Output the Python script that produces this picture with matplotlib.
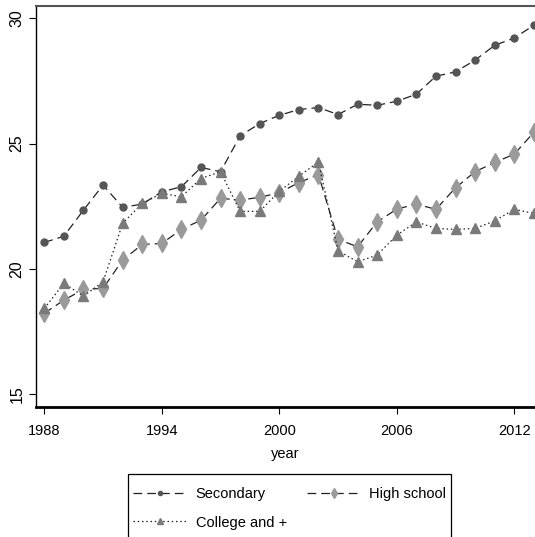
import matplotlib
matplotlib.use("Agg")
import matplotlib.pyplot as plt
from matplotlib.patches import Rectangle
import numpy as np

# Wage series by education level, 1988-2013
years = np.arange(1988, 2014)

secondary = [21.06, 21.31, 22.35, 23.35, 22.46, 22.59, 23.08, 23.28, 24.05, 23.88,
             25.31, 25.80, 26.13, 26.36, 26.44, 26.16, 26.57, 26.53, 26.69, 26.97,
             27.69, 27.86, 28.33, 28.92, 29.21, 29.72]
high_school = [18.24, 18.76, 19.19, 19.23, 20.36, 20.98, 21.02, 21.58, 21.95, 22.82,
               22.75, 22.86, 23.04, 23.45, 23.76, 21.18, 20.89, 21.88, 22.39, 22.59,
               22.38, 23.24, 23.88, 24.25, 24.58, 25.45]
college = [18.43, 19.43, 18.92, 19.49, 21.82, 22.62, 23.02, 22.88, 23.61, 23.88,
           22.30, 22.30, 23.10, 23.70, 24.27, 20.73, 20.29, 20.56, 21.35, 21.88,
           21.62, 21.58, 21.62, 21.92, 22.38, 22.22]

series_labels = ["Secondary", "High school", "College and +"]
xticks = [1988, 1994, 2000, 2006, 2012]
yticks = [15, 20, 25, 30]

font = ["Liberation Sans", "DejaVu Sans"]

W, H = 535, 537
fig = plt.figure(figsize=(W / 100, H / 100), dpi=100)
ax = fig.add_axes([35.7 / W, 1 - 407 / H, 1 - 35.7 / W, (407 - 5.7) / H])

h1, = ax.plot(years, secondary, color="#222222", lw=0.9, dashes=(7, 4),
              marker="o", ms=5, mfc="#555555", mec="#555555", label=series_labels[0])
h2, = ax.plot(years, high_school, color="#222222", lw=0.9, dashes=(7, 4),
              marker="d", ms=9, mfc="#9a9a9a", mec="#9a9a9a", label=series_labels[1])
h3, = ax.plot(years, college, color="#222222", lw=0.9, dashes=(1.2, 2.2),
              marker="^", ms=7, mfc="#7a7a7a", mec="#7a7a7a", label=series_labels[2])

ax.set_xlim(1987.56, 2013.06)
ax.set_ylim(14.5, 30.5)
ax.set_xticks(xticks)
ax.set_yticks(yticks)
ax.set_xticklabels([str(t) for t in xticks], family=font, fontsize=10.5)
ax.set_yticklabels([str(t) for t in yticks], family=font, fontsize=11.5,
                   rotation=90, va="center")
ax.tick_params(axis="x", length=5, width=0.8, pad=7)
ax.tick_params(axis="y", length=5, width=0.8, pad=3)
ax.set_xlabel("year", family=font, fontsize=10.5, labelpad=7)

ax.spines["right"].set_visible(False)
ax.spines["top"].set_color("#555555")
ax.spines["top"].set_linewidth(1.5)
ax.spines["left"].set_linewidth(1.0)
ax.spines["bottom"].set_linewidth(2.0)

# legend box runs off the bottom of the figure, so draw the frame by hand
fig.patches.append(Rectangle((127.7 / W, -0.05), (450.7 - 127.7) / W,
                             0.05 + 1 - 474.3 / H, transform=fig.transFigure,
                             fill=False, edgecolor="black", lw=0.9))

# column-major fill: Secondary / College in column one, High school in column two
leg = fig.legend(handles=[h1, h3, h2], loc="upper left", ncol=2,
                 bbox_to_anchor=(130 / W, 1 - 484 / H), borderaxespad=0,
                 frameon=False, prop={"family": font, "size": 10.5},
                 handlelength=3.7, handletextpad=0.6, columnspacing=1.35,
                 markerscale=0.6, borderpad=0.2, labelspacing=1.0)

fig.savefig("out.png", dpi=100)
